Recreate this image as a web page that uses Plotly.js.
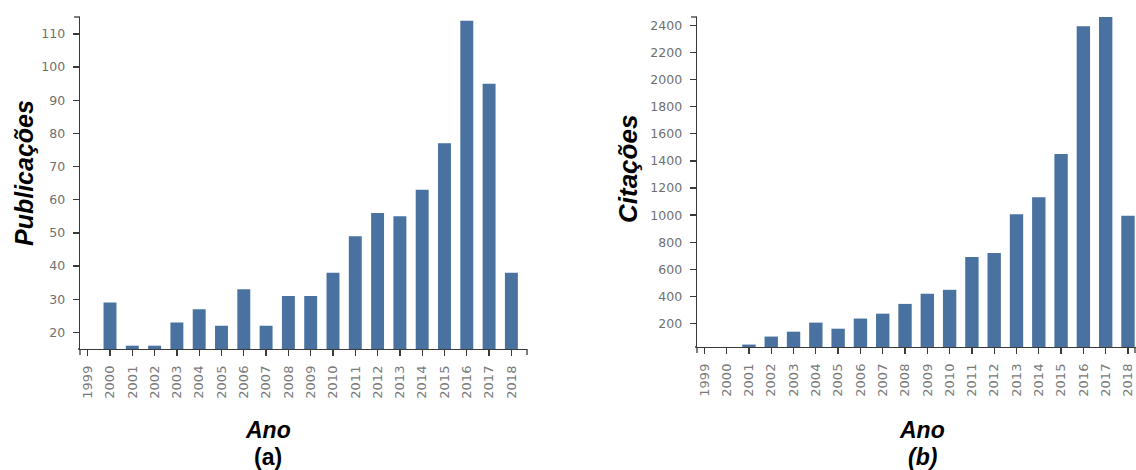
<!DOCTYPE html>
<html>
<head>
<meta charset="utf-8">
<script src="https://cdn.plot.ly/plotly-3.0.1.min.js"></script>
<style>html,body{margin:0;padding:0;background:#fff;}#chart{width:1136px;height:470px;}</style>
</head>
<body>
<div id="chart"></div>
<script>
const years = ["1999","2000","2001","2002","2003","2004","2005","2006","2007","2008","2009","2010","2011","2012","2013","2014","2015","2016","2017","2018"];
const publicacoes = [0, 29, 16, 16, 23, 27, 22, 33, 22, 31, 31, 38, 49, 56, 55, 63, 77, 114, 95, 38];
const citacoes = [0, 0, 45, 104, 140, 207, 162, 237, 273, 345, 420, 449, 691, 720, 1007, 1132, 1451, 2393, 2470, 995];
const pubTicks = [20, 30, 40, 50, 60, 70, 80, 90, 100, 110];
const citTicks = [200, 400, 600, 800, 1000, 1200, 1400, 1600, 1800, 2000, 2200, 2400];

const W = 1136, H = 470;
const px = v => v / W;
const py = v => 1 - v / H;

const barColor = '#4a72a0';
const axisColor = '#3a3a3a';
const yTickFont = {family: 'DejaVu Sans', size: 12.5, color: '#6f6f6f'};
const xTickFont = {family: 'DejaVu Sans', size: 13, color: '#7a7a7a'};

const traces = [
  {type: 'bar', x: years, y: publicacoes, xaxis: 'x', yaxis: 'y', width: 0.58,
   marker: {color: barColor, line: {width: 0}}, hoverinfo: 'x+y'},
  {type: 'bar', x: years, y: citacoes, xaxis: 'x2', yaxis: 'y2', width: 0.6,
   marker: {color: barColor, line: {width: 0}}, hoverinfo: 'x+y'}
];

function xAxis(domain, range, anchor) {
  return {domain: domain, range: range, anchor: anchor, type: 'category',
    showline: true, linecolor: axisColor, linewidth: 1.4, showgrid: false, zeroline: false,
    ticks: 'outside', ticklen: 6, tickwidth: 1.3, tickcolor: axisColor,
    tickangle: -90, tickfont: xTickFont, ticklabelstandoff: 4, fixedrange: true};
}
function yAxis(domain, range, anchor, vals) {
  return {domain: domain, range: range, anchor: anchor,
    showline: true, linecolor: axisColor, linewidth: 1.4, showgrid: false, zeroline: false,
    tickmode: 'array', tickvals: vals, ticktext: vals.map(String),
    ticks: 'outside', ticklen: 6, tickwidth: 1.3, tickcolor: axisColor,
    tickfont: yTickFont, ticklabelstandoff: 5, fixedrange: true};
}

function outerTicks(x0, x1, yTop, yBot) {
  const s = {type: 'line', xref: 'paper', yref: 'paper', line: {color: axisColor, width: 1.3}};
  return [
    Object.assign({}, s, {x0: px(x0), x1: px(x0), y0: py(yBot), y1: py(yBot + 6)}),
    Object.assign({}, s, {x0: px(x1), x1: px(x1), y0: py(yBot), y1: py(yBot + 6)}),
    Object.assign({}, s, {x0: px(x0), x1: px(x0 - 6), y0: py(yTop), y1: py(yTop)}),
    Object.assign({}, s, {x0: px(x0 - 2), x1: px(x0), y0: py(yBot), y1: py(yBot)})
  ];
}

const titleFont = (size, italic) => ({family: 'Liberation Sans, Arial, sans-serif', size: size, color: '#000', weight: 700, style: italic ? 'italic' : 'normal'});

const layout = {
  width: W, height: H,
  margin: {l: 0, r: 0, t: 0, b: 0},
  paper_bgcolor: '#ffffff', plot_bgcolor: '#ffffff',
  showlegend: false, bargap: 0.4,
  xaxis: xAxis([px(80), px(527)], [-0.345, 19.7], 'y'),
  yaxis: yAxis([py(349), py(17)], [15, 115.1], 'x', pubTicks),
  xaxis2: xAxis([px(697), 1], [-0.33, 19.36], 'y2'),
  yaxis2: yAxis([py(347), py(17)], [27, 2462], 'x2', citTicks),
  shapes: outerTicks(80, 527, 17, 349).concat(outerTicks(697, 1135, 17, 347)),
  annotations: [
    {text: 'Publicações', xref: 'paper', yref: 'paper', x: px(24), y: py(173), textangle: -90,
     showarrow: false, xanchor: 'center', yanchor: 'middle', font: titleFont(25, true)},
    {text: 'Citações', xref: 'paper', yref: 'paper', x: px(628), y: py(169), textangle: -90,
     showarrow: false, xanchor: 'center', yanchor: 'middle', font: titleFont(26, true)},
    {text: 'Ano', xref: 'paper', yref: 'paper', x: px(268), y: py(430),
     showarrow: false, xanchor: 'center', yanchor: 'middle', font: titleFont(23, true)},
    {text: '(a)', xref: 'paper', yref: 'paper', x: px(268), y: py(457),
     showarrow: false, xanchor: 'center', yanchor: 'middle', font: titleFont(23, false)},
    {text: 'Ano', xref: 'paper', yref: 'paper', x: px(922), y: py(430),
     showarrow: false, xanchor: 'center', yanchor: 'middle', font: titleFont(23, true)},
    {text: '(b)', xref: 'paper', yref: 'paper', x: px(922), y: py(457),
     showarrow: false, xanchor: 'center', yanchor: 'middle', font: titleFont(23, true)}
  ]
};

Plotly.newPlot('chart', traces, layout, {displayModeBar: false, staticPlot: true});
</script>
</body>
</html>
